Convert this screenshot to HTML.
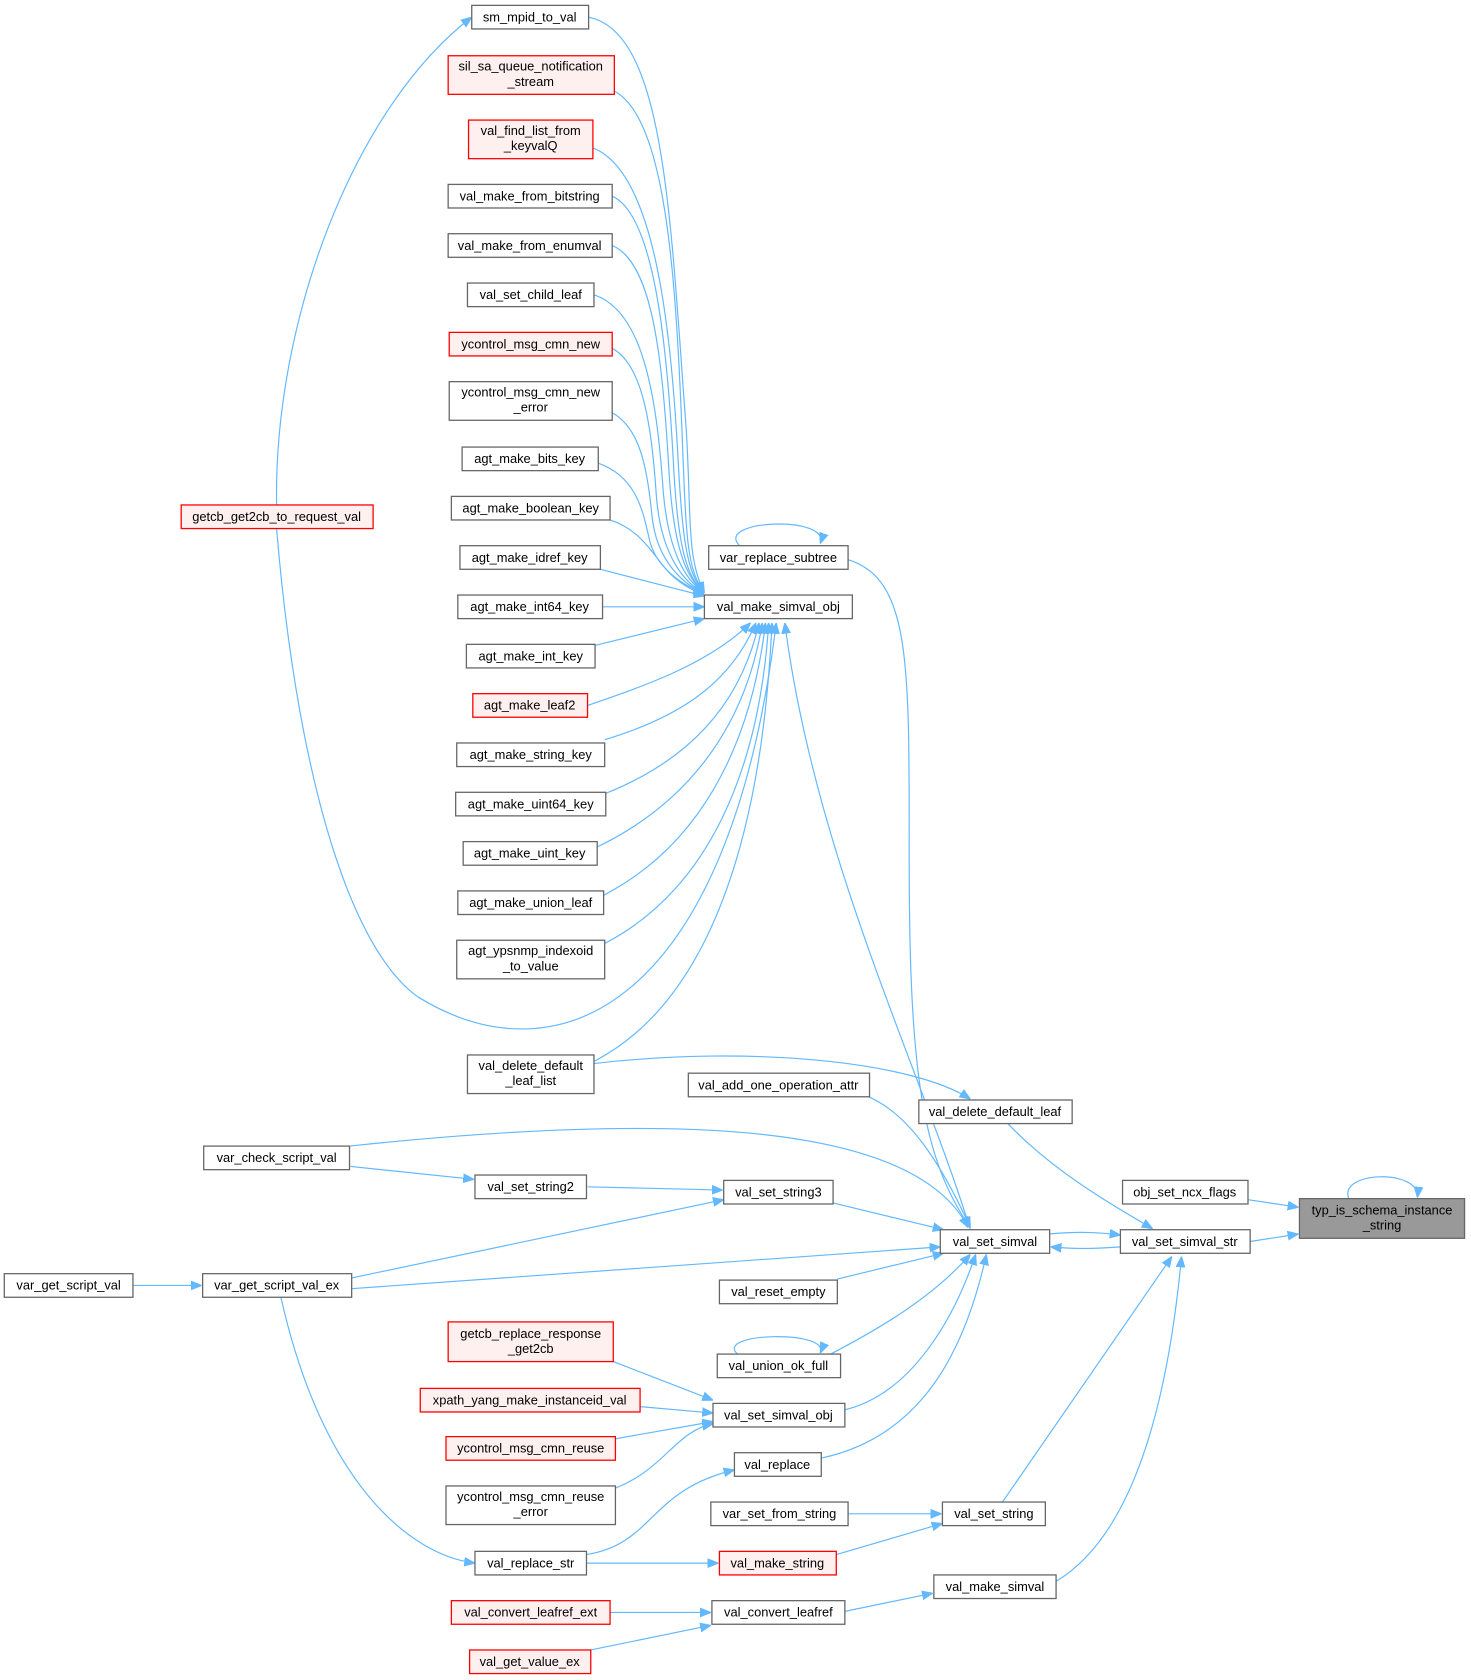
<!DOCTYPE html>
<html><head><meta charset="utf-8"><style>
html,body{margin:0;padding:0;background:#fff;}
svg{display:block}
text{font-family:"Liberation Sans",Arial,sans-serif;font-size:12px;fill:#000;text-anchor:middle}
.n{fill:#fff;stroke:#666;stroke-width:1.2}
.r{fill:#fff0f0;stroke:#ff0000;stroke-width:1.2}
.g{fill:#999;stroke:#666;stroke-width:1.2}
.e{fill:none;stroke:#63b8ff;stroke-width:1.1}
</style></head><body>
<svg width="1471" height="1680" viewBox="0 0 1372 1567" preserveAspectRatio="none" xmlns="http://www.w3.org/2000/svg">
<defs><marker id="a" viewBox="0 0 10 10" refX="10" refY="5" markerWidth="10" markerHeight="10" markerUnits="userSpaceOnUse" orient="auto"><path d="M0,1 L10,5 L0,9 z" fill="#63b8ff" stroke="#63b8ff"/></marker></defs>
<g marker-end="url(#a)">
<path class="e" d="M549,16 C620,30 625,200 640,400 C645,480 640,520 657,553"/>
<path class="e" d="M573,85 C620,110 630,250 636,400 C640,500 640,530 657,553"/>
<path class="e" d="M553,138 C610,160 625,300 632,420 C636,500 640,535 657,553"/>
<path class="e" d="M571,183 C610,200 622,320 628,430 C632,510 640,538 657,553"/>
<path class="e" d="M571,229 C610,245 618,340 624,440 C628,510 640,540 657,553"/>
<path class="e" d="M554,275 C600,290 612,370 618,450 C622,515 640,542 657,553"/>
<path class="e" d="M571,325 C600,340 608,400 612,460 C616,520 640,545 657,553"/>
<path class="e" d="M571,385 C598,400 604,440 608,480 C612,525 640,547 657,553"/>
<path class="e" d="M558,432 C595,445 600,480 605,500 C610,530 640,548 657,553"/>
<path class="e" d="M569,485 C600,495 610,520 625,535 C635,545 645,550 657,555"/>
<path class="e" d="M560,531 L657,556"/>
<path class="e" d="M562,566 L657,566"/>
<path class="e" d="M555,602 L657,577"/>
<path class="e" d="M548,658 C600,640 660,620 700,581"/>
<path class="e" d="M564,690 C630,670 680,640 705,581"/>
<path class="e" d="M565,740 C640,710 690,660 708,581"/>
<path class="e" d="M557,790 C640,750 695,680 711,581"/>
<path class="e" d="M563,835 C650,790 700,700 714,581"/>
<path class="e" d="M564,880 C660,830 708,720 717,581"/>
<path class="e" d="M554,990 C670,930 712,760 720,581"/>
<path class="e" d="M258,493 C275,700 320,880 390,930 C520,1010 680,940 724,581"/>
<path class="e" d="M258,471 C255,300 330,100 440,16"/>
<path class="e" d="M905,1147 C860,1000 760,800 732,581"/>
<path class="e" d="M791,522 C850,540 848,620 848,800 C848,1000 860,1080 905,1145"/>
<path class="e" d="M690,509 C665,485 775,480 765,507"/>
<path class="e" d="M554,992 C700,975 850,990 905,1025"/>
<path class="e" d="M940,1048 C980,1090 1030,1120 1075,1146"/>
<path class="e" d="M810,1023 C850,1040 880,1090 905,1145"/>
<path class="e" d="M326,1069 C600,1040 850,1040 903,1145"/>
<path class="e" d="M327,1088 L442,1100"/>
<path class="e" d="M548,1107 L674,1110"/>
<path class="e" d="M777,1122 L880,1147"/>
<path class="e" d="M328,1192 L675,1119"/>
<path class="e" d="M979,1151 C1010,1148 1030,1150 1045,1152"/>
<path class="e" d="M328,1202 L877,1163"/>
<path class="e" d="M124,1199 L188,1199"/>
<path class="e" d="M262,1210 C300,1380 380,1450 443,1458"/>
<path class="e" d="M781,1193 L880,1169"/>
<path class="e" d="M765,1268 C820,1240 870,1210 905,1170"/>
<path class="e" d="M688,1263 C665,1243 775,1240 765,1262"/>
<path class="e" d="M788,1315 C850,1300 890,1230 910,1170"/>
<path class="e" d="M766,1360 C860,1340 900,1260 920,1170"/>
<path class="e" d="M572,1270 L665,1306"/>
<path class="e" d="M597,1312 L665,1318"/>
<path class="e" d="M574,1342 L665,1326"/>
<path class="e" d="M574,1388 C620,1370 630,1335 665,1328"/>
<path class="e" d="M547,1450 C610,1440 605,1390 685,1371"/>
<path class="e" d="M547,1458 L670,1458"/>
<path class="e" d="M780,1450 L879,1421"/>
<path class="e" d="M791,1412 L878,1412"/>
<path class="e" d="M935,1401 L1093,1172"/>
<path class="e" d="M985,1475 C1060,1430 1090,1300 1102,1172"/>
<path class="e" d="M788,1503 L870,1486"/>
<path class="e" d="M569,1504 L663,1504"/>
<path class="e" d="M551,1539 L663,1516"/>
<path class="e" d="M1045,1163 C1020,1165 1000,1165 980,1163"/>
<path class="e" d="M1164,1119 L1211,1126"/>
<path class="e" d="M1166,1158 L1211,1151"/>
<path class="e" d="M1258,1118 C1248,1092 1325,1090 1322,1117"/>
</g>
<g>
<rect class="n" x="440" y="5" width="109" height="22"/><text x="494" y="20">sm_mpid_to_val</text>
<rect class="r" x="418" y="52" width="155" height="36"/><text x="495" y="66">sil_sa_queue_notification</text><text x="495" y="80">_stream</text>
<rect class="r" x="437" y="112" width="116" height="36"/><text x="495" y="126">val_find_list_from</text><text x="495" y="140">_keyvalQ</text>
<rect class="n" x="418" y="172" width="153" height="22"/><text x="494" y="187">val_make_from_bitstring</text>
<rect class="n" x="418" y="218" width="153" height="22"/><text x="494" y="233">val_make_from_enumval</text>
<rect class="n" x="436" y="264" width="118" height="22"/><text x="495" y="279">val_set_child_leaf</text>
<rect class="r" x="419" y="310" width="152" height="22"/><text x="495" y="325">ycontrol_msg_cmn_new</text>
<rect class="n" x="419" y="356" width="152" height="36"/><text x="495" y="370">ycontrol_msg_cmn_new</text><text x="495" y="384">_error</text>
<rect class="n" x="431" y="417" width="127" height="22"/><text x="494" y="432">agt_make_bits_key</text>
<rect class="n" x="421" y="463" width="148" height="22"/><text x="495" y="478">agt_make_boolean_key</text>
<rect class="n" x="429" y="509" width="131" height="22"/><text x="494" y="524">agt_make_idref_key</text>
<rect class="n" x="427" y="555" width="135" height="22"/><text x="494" y="570">agt_make_int64_key</text>
<rect class="n" x="435" y="601" width="120" height="22"/><text x="495" y="616">agt_make_int_key</text>
<rect class="r" x="441" y="647" width="107" height="22"/><text x="494" y="662">agt_make_leaf2</text>
<rect class="n" x="426" y="693" width="138" height="22"/><text x="495" y="708">agt_make_string_key</text>
<rect class="n" x="425" y="739" width="140" height="22"/><text x="495" y="754">agt_make_uint64_key</text>
<rect class="n" x="432" y="785" width="125" height="22"/><text x="494" y="800">agt_make_uint_key</text>
<rect class="n" x="427" y="831" width="136" height="22"/><text x="495" y="846">agt_make_union_leaf</text>
<rect class="n" x="426" y="877" width="138" height="36"/><text x="495" y="891">agt_ypsnmp_indexoid</text><text x="495" y="905">_to_value</text>
<rect class="n" x="436" y="984" width="118" height="36"/><text x="495" y="998">val_delete_default</text><text x="495" y="1012">_leaf_list</text>
<rect class="r" x="169" y="471" width="179" height="22"/><text x="258" y="486">getcb_get2cb_to_request_val</text>
<rect class="n" x="661" y="509" width="130" height="22"/><text x="726" y="524">var_replace_subtree</text>
<rect class="n" x="657" y="555" width="138" height="22"/><text x="726" y="570">val_make_simval_obj</text>
<rect class="n" x="642" y="1001" width="169" height="22"/><text x="726" y="1016">val_add_one_operation_attr</text>
<rect class="n" x="857" y="1026" width="143" height="22"/><text x="928" y="1041">val_delete_default_leaf</text>
<rect class="n" x="1047" y="1101" width="117" height="22"/><text x="1105" y="1116">obj_set_ncx_flags</text>
<rect class="g" x="1212" y="1118" width="154" height="37"/><text x="1289" y="1133">typ_is_schema_instance</text><text x="1289" y="1147">_string</text>
<rect class="n" x="1045" y="1147" width="121" height="22"/><text x="1105" y="1162">val_set_simval_str</text>
<rect class="n" x="877" y="1147" width="102" height="22"/><text x="928" y="1162">val_set_simval</text>
<rect class="n" x="190" y="1069" width="136" height="22"/><text x="258" y="1084">var_check_script_val</text>
<rect class="n" x="443" y="1096" width="104" height="22"/><text x="495" y="1111">val_set_string2</text>
<rect class="n" x="675" y="1101" width="102" height="22"/><text x="726" y="1116">val_set_string3</text>
<rect class="n" x="4" y="1188" width="120" height="22"/><text x="64" y="1203">var_get_script_val</text>
<rect class="n" x="189" y="1188" width="139" height="22"/><text x="258" y="1203">var_get_script_val_ex</text>
<rect class="n" x="671" y="1194" width="110" height="22"/><text x="726" y="1209">val_reset_empty</text>
<rect class="n" x="669" y="1263" width="115" height="22"/><text x="726" y="1278">val_union_ok_full</text>
<rect class="r" x="418" y="1233" width="154" height="37"/><text x="495" y="1248">getcb_replace_response</text><text x="495" y="1262">_get2cb</text>
<rect class="r" x="392" y="1295" width="205" height="22"/><text x="494" y="1310">xpath_yang_make_instanceid_val</text>
<rect class="n" x="665" y="1309" width="123" height="22"/><text x="726" y="1324">val_set_simval_obj</text>
<rect class="r" x="416" y="1340" width="158" height="22"/><text x="495" y="1355">ycontrol_msg_cmn_reuse</text>
<rect class="n" x="416" y="1386" width="158" height="36"/><text x="495" y="1400">ycontrol_msg_cmn_reuse</text><text x="495" y="1414">_error</text>
<rect class="n" x="685" y="1355" width="81" height="22"/><text x="725" y="1370">val_replace</text>
<rect class="n" x="663" y="1401" width="128" height="22"/><text x="727" y="1416">var_set_from_string</text>
<rect class="n" x="879" y="1401" width="96" height="22"/><text x="927" y="1416">val_set_string</text>
<rect class="n" x="443" y="1447" width="104" height="22"/><text x="495" y="1462">val_replace_str</text>
<rect class="r" x="671" y="1447" width="109" height="22"/><text x="725" y="1462">val_make_string</text>
<rect class="n" x="871" y="1469" width="114" height="22"/><text x="928" y="1484">val_make_simval</text>
<rect class="r" x="421" y="1493" width="148" height="22"/><text x="495" y="1508">val_convert_leafref_ext</text>
<rect class="n" x="664" y="1493" width="124" height="22"/><text x="726" y="1508">val_convert_leafref</text>
<rect class="r" x="438" y="1539" width="113" height="22"/><text x="494" y="1554">val_get_value_ex</text>
</g>
</svg>
</body></html>
